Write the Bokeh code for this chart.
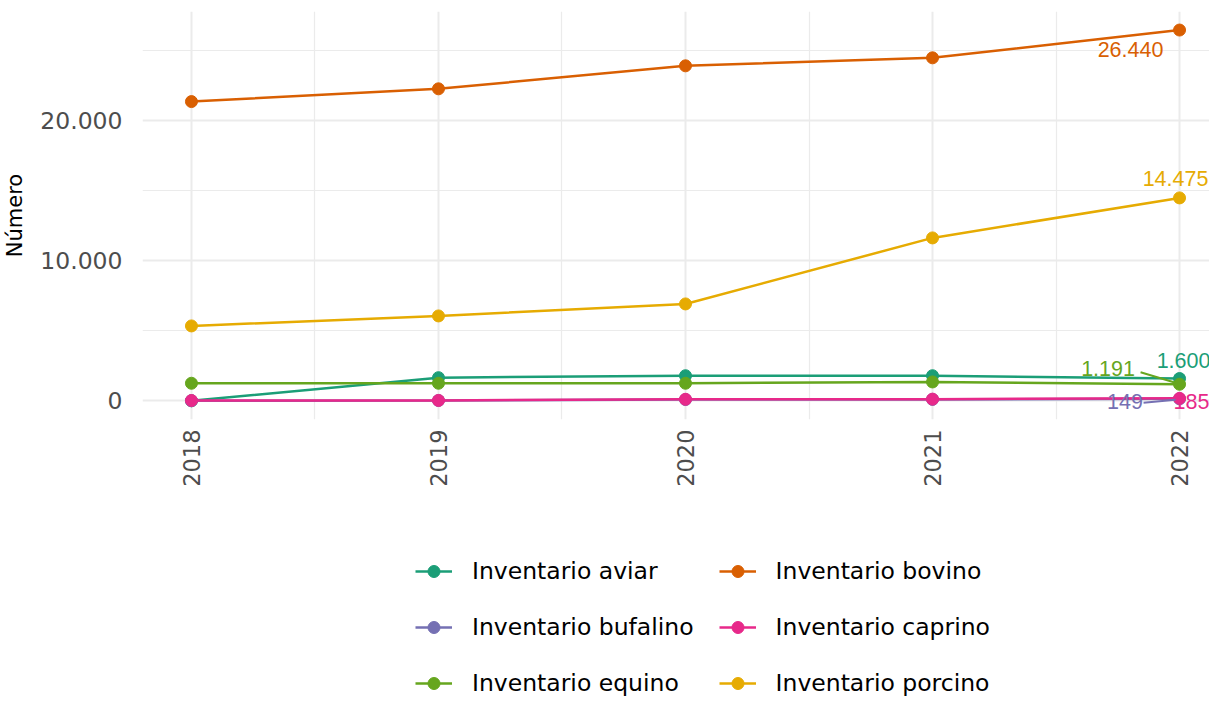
from bokeh.plotting import figure
from bokeh.layouts import column
from bokeh.models import (Range1d, FixedTicker, Legend, LegendItem, CustomJSTickFormatter)
from bokeh.core.properties import value
from bokeh.embed import file_html
from bokeh.resources import INLINE
import math

years = [2018, 2019, 2020, 2021, 2022]
series_names = ["Inventario aviar", "Inventario bovino", "Inventario bufalino",
                "Inventario caprino", "Inventario equino", "Inventario porcino"]
aviar = [10, 1660, 1800, 1800, 1600]
bovino = [21340, 22250, 23890, 24460, 26440]
bufalino = [20, 30, 100, 110, 149]
caprino = [30, 40, 120, 130, 185]
equino = [1262, 1262, 1262, 1355, 1191]
porcino = [5348, 6061, 6916, 11622, 14475]
series_values = [aviar, bovino, bufalino, caprino, equino, porcino]
colors = ["#1B9E77", "#D95F02", "#7570B3", "#E7298A", "#66A61E", "#E6AB02"]

y_ticks = [0, 10000, 20000]
y_minor = [5000, 15000, 25000]
x_minor = [2018.5, 2019.5, 2020.5, 2021.5]

# label placement offsets (screen px) relative to the last point
label_dx = [4, -49, -54.5, 12, -71.5, -4]
label_dy = [-18, 19.5, 3, 3.5, -16, -19]
# leader segments (screen px from last point): (start dx, start dy, end dx, end dy)
leaders = {4: (-4, -1.5, -39, -12), 2: (-4, 1, -36, 4)}

W = 1209
H1, H2 = 491, 206
FRAME_L, FRAME_T, FRAME_B = 141, 11, 419
x0, x1 = 2017.8018, 2022.1213
y0, y1 = -1322, 27762

p = figure(width=W, height=H1, output_backend="svg", toolbar_location=None,
           x_range=Range1d(x0, x1), y_range=Range1d(y0, y1),
           min_border_left=FRAME_L, min_border_right=0, min_border_top=FRAME_T,
           min_border_bottom=H1 - FRAME_B)
p.outline_line_color = None
p.background_fill_color = "white"
p.border_fill_color = "white"

fw = W - FRAME_L
fh = FRAME_B - FRAME_T
ux = (x1 - x0) / fw
uy = (y1 - y0) / fh

# axes
p.xaxis.ticker = FixedTicker(ticks=years, minor_ticks=x_minor)
p.yaxis.ticker = FixedTicker(ticks=y_ticks, minor_ticks=y_minor)
p.yaxis.formatter = CustomJSTickFormatter(code="""
    return tick.toFixed(0).replace(/\\B(?=(\\d{3})+(?!\\d))/g, '.');
""")
for ax in (p.xaxis[0], p.yaxis[0]):
    ax.axis_line_color = None
    ax.major_tick_line_color = None
    ax.minor_tick_line_color = None
    ax.major_label_text_font = "DejaVu Sans"
    ax.major_label_text_color = "#4d4d4d"
p.xaxis.major_label_text_font_size = "22.5px"
p.yaxis.major_label_text_font_size = "23.5px"
p.xaxis.major_label_orientation = math.pi / 2
p.xaxis.major_label_standoff = 4
p.yaxis.major_label_standoff = 14
p.yaxis.axis_label = "Número"
p.yaxis.axis_label_text_font = "DejaVu Sans"
p.yaxis.axis_label_text_font_style = "normal"
p.yaxis.axis_label_text_font_size = "21px"
p.yaxis.axis_label_text_color = "black"
p.yaxis.axis_label_standoff = 10

p.xgrid.grid_line_color = "#ebebeb"
p.xgrid.grid_line_width = 2
p.ygrid.grid_line_color = "#ebebeb"
p.ygrid.grid_line_width = 2
p.xgrid.minor_grid_line_color = "#ebebeb"
p.xgrid.minor_grid_line_width = 1.2
p.ygrid.minor_grid_line_color = "#ebebeb"
p.ygrid.minor_grid_line_width = 1.2

for name, vals, col in zip(series_names, series_values, colors):
    p.line(years, vals, line_color=col, line_width=2.5)
    p.scatter(years, vals, size=12, fill_color=col, line_color=col)

# end labels
for i, (vals, col) in enumerate(zip(series_values, colors)):
    v = vals[-1]
    lab = f"{v:,}".replace(",", ".")
    if i in leaders:
        sdx, sdy, edx, edy = leaders[i]
        p.segment(x0=[years[-1] + sdx * ux], y0=[v - sdy * uy],
                  x1=[years[-1] + edx * ux], y1=[v - edy * uy],
                  line_color=col, line_width=2)
    p.text(x=[years[-1]], y=[v], text=[lab], x_offset=label_dx[i], y_offset=label_dy[i],
           text_align="center", text_baseline="middle", text_color=col,
           text_font=value("Liberation Sans"), text_font_size="21.5px")

# legend panel (its renderers hold the same series, outside this panel's view)
p2 = figure(width=W, height=H2, output_backend="svg", toolbar_location=None,
            x_range=Range1d(-10, -9), y_range=Range1d(-10, -9),
            x_axis_type=None, y_axis_type=None,
            min_border_left=0, min_border_right=0, min_border_top=0, min_border_bottom=0)
p2.outline_line_color = None
p2.grid.visible = False
items = []
for name, vals, col in zip(series_names, series_values, colors):
    lr = p2.line(years, vals, line_color=col, line_width=2.5)
    sr = p2.scatter(years, vals, size=12, fill_color=col, line_color=col)
    items.append(LegendItem(label=name, renderers=[lr, sr]))

legend = Legend(items=items, ncols=2, orientation="horizontal",
                location=(273, -1), margin=0, padding=0, spacing=25,
                glyph_width=37, glyph_height=30, label_height=31,
                label_standoff=20, label_text_font="DejaVu Sans",
                label_text_font_size="23.5px", label_text_color="black",
                border_line_color=None, background_fill_alpha=0)
p2.add_layout(legend, "center")

layout = column(p, p2, spacing=0)
open("out.html", "w").write(file_html(layout, INLINE))
